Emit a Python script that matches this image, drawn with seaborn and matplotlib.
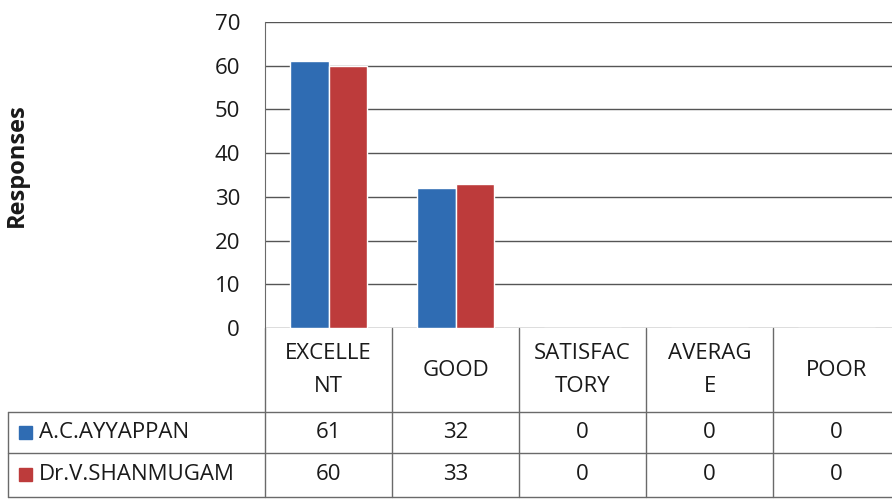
import pandas as pd
import matplotlib.pyplot as plt
import seaborn as sns
from matplotlib.patches import Rectangle

# data
categories = ['EXCELLENT', 'GOOD', 'SATISFACTORY', 'AVERAGE', 'POOR']
header_labels = ['EXCELLE\nNT', 'GOOD', 'SATISFAC\nTORY', 'AVERAG\nE', 'POOR']
teachers = ['A.C.AYYAPPAN', 'Dr.V.SHANMUGAM']
ayyappan = [61, 32, 0, 0, 0]
shanmugam = [60, 33, 0, 0, 0]
colors = ['#2f6cb3', '#bd3b3b']

df = pd.DataFrame({
    'category': categories * 2,
    'teacher': [teachers[0]] * 5 + [teachers[1]] * 5,
    'responses': ayyappan + shanmugam,
})

sns.set_style('white')
plt.rcParams['font.family'] = ['Open Sans', 'DejaVu Sans']
text_col = '#1a1a1a'
line_col = '#6a6a6a'
fs = 16

fig = plt.figure(figsize=(8.92, 5), dpi=100)
ax = fig.add_axes([265 / 892, 1 - 328 / 500, 635 / 892, 306 / 500])

sns.barplot(data=df, x='category', y='responses', hue='teacher',
            order=categories, hue_order=teachers, palette=colors,
            width=0.6, saturation=1, legend=False, ax=ax)

ax.set_ylim(0, 70)
ax.set_xlim(-0.5, len(categories) - 0.5)
ax.set_yticks(range(0, 71, 10))
ax.yaxis.grid(True, color='#555555', lw=1)
ax.set_axisbelow(True)
for s in ['top', 'right', 'bottom']:
    ax.spines[s].set_visible(False)
ax.spines['left'].set_color(line_col)
ax.tick_params(axis='y', length=5, color=line_col, labelsize=fs,
               labelcolor=text_col, pad=13)
ax.set_xticks([])
ax.set_xlabel('')
ax.set_ylabel('')
fig.text(17 / 892, 1 - 165 / 500, 'Responses', rotation=90, ha='center',
         va='center', fontsize=17, fontweight='bold', color=text_col)

# data table under the plot
tx = ax.get_xaxis_transform()
ta = ax.transAxes
y_head = -84 / 306
y_r1 = -125 / 306
y_r2 = -169 / 306
x_left = -257 / 635
lkw = dict(color=line_col, lw=1, clip_on=False)

for b in [i - 0.5 for i in range(len(categories) + 1)]:
    ax.plot([b, b], [0, y_r2], transform=tx, **lkw)
for yy in [y_head, y_r1, y_r2]:
    ax.plot([x_left, 1.02], [yy, yy], transform=ta, **lkw)
ax.plot([x_left, x_left], [y_head, y_r2], transform=ta, **lkw)

for i, lab in enumerate(header_labels):
    ax.text(i, y_head / 2, lab, transform=tx, ha='center', va='center',
            fontsize=fs, color=text_col, linespacing=1.75)

rows = [ayyappan, shanmugam]
row_mid = [(y_head + y_r1) / 2, (y_r1 + y_r2) / 2]
for name, vals, c, ym in zip(teachers, rows, colors, row_mid):
    ax.add_patch(Rectangle((x_left + 11 / 635, ym - 6 / 306), 13 / 635, 13 / 306,
                           transform=ta, color=c, clip_on=False))
    ax.text(x_left + 31 / 635, ym, name, transform=ta, ha='left', va='center',
            fontsize=fs, color=text_col)
    for i, v in enumerate(vals):
        ax.text(i, ym, str(v), transform=tx, ha='center', va='center',
                fontsize=fs, color=text_col)

fig.savefig('out.png', dpi=100)
